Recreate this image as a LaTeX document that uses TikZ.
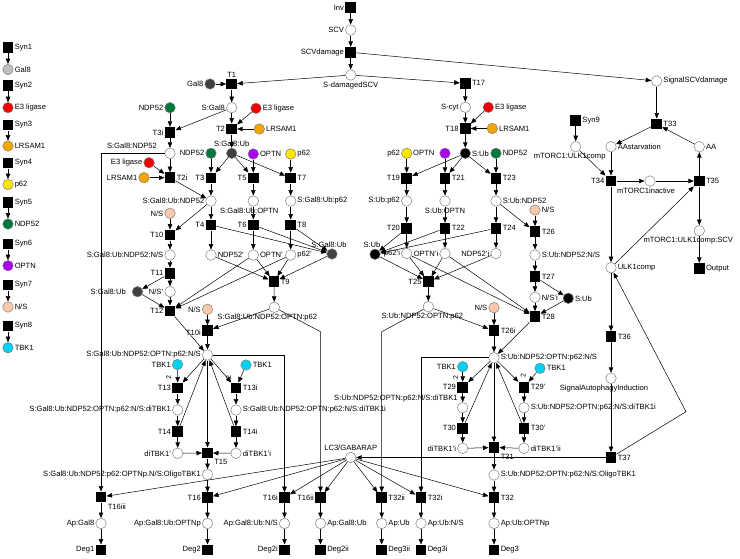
\documentclass[tikz,border=0pt]{standalone}
\usepackage{fontspec}
\setmainfont{Liberation Sans}
\usetikzlibrary{arrows.meta}
\newcommand\lbl{\fontsize{7.6}{9}\selectfont}
\definecolor{gal}{RGB}{190,190,190}
\definecolor{dk}{RGB}{64,64,64}
\definecolor{ligase}{RGB}{240,0,0}
\definecolor{lrs}{RGB}{245,165,0}
\definecolor{sqst}{RGB}{255,230,0}
\definecolor{ndp}{RGB}{0,120,60}
\definecolor{optn}{RGB}{170,0,240}
\definecolor{ns}{RGB}{250,200,170}
\definecolor{tbk}{RGB}{0,210,240}
\begin{document}
\begin{tikzpicture}[x=1pt,y=-1pt,font=\lbl,line width=0.5pt,
  pl/.style={circle,draw=gray,fill=white,minimum size=10.5pt,inner sep=0pt},
  tr/.style={rectangle,fill=black,minimum size=10.5pt,inner sep=0pt},
  flow/.style={-{Triangle[length=5.5pt,width=4.5pt]}},
  every label/.style={inner sep=1pt},
  wt/.style={font=\fontsize{7}{8}\selectfont,rotate=90,inner sep=0pt}]
\useasboundingbox (0,0) rectangle (740,558);

\node[tr,label={right:Syn1}] (syn1) at (8,47.7) {};
\node[pl,fill=gal,label={right:Gal8}] (gal8L) at (8,69.5) {};
\node[tr,label={right:Syn2}] (syn2) at (8,85.7) {};
\node[pl,fill=ligase,label={right:E3 ligase}] (e3L) at (8,107.7) {};
\node[tr,label={right:Syn3}] (syn3) at (8,125) {};
\node[pl,fill=lrs,label={right:LRSAM1}] (lrsL) at (8,146) {};
\node[tr,label={right:Syn4}] (syn4) at (8,163) {};
\node[pl,fill=sqst,label={right:p62}] (p62L) at (8,184.5) {};
\node[tr,label={right:Syn5}] (syn5) at (8,202.7) {};
\node[pl,fill=ndp,label={right:NDP52}] (ndpL) at (8,224) {};
\node[tr,label={right:Syn6}] (syn6) at (8,244) {};
\node[pl,fill=optn,label={right:OPTN}] (optnL) at (8,265.7) {};
\node[tr,label={right:Syn7}] (syn7) at (8,285) {};
\node[pl,fill=ns,label={right:N/S}] (nsL) at (8,307) {};
\node[tr,label={right:Syn8}] (syn8) at (8,326) {};
\node[pl,fill=tbk,label={right:TBK1}] (tbkL) at (8,347.7) {};

\node[tr,label={left:Inv}] (inv) at (350.7,7.5) {};
\node[pl,label={left:SCV}] (scv) at (350.7,30) {};
\node[tr,label={left:SCVdamage}] (scvd) at (350.7,52.3) {};
\node[pl,label={below:S-damagedSCV}] (sdam) at (350.7,75) {};

\node[tr,label={above:T1}] (t1) at (231.7,84) {};
\node[pl,fill=dk,label={left:Gal8}] (gal8a) at (210,84) {};
\node[pl,label={left:{S:Gal8}}] (sgal8) at (231.7,107.7) {};
\node[pl,fill=ligase,label={right:E3 ligase}] (e3a) at (256,108.3) {};
\node[tr,label={left:T2}] (t2) at (231.7,129) {};
\node[pl,fill=lrs,label={right:LRSAM1}] (lrsa) at (259.3,129) {};
\node[pl,fill=dk,label={above:{S:Gal8:Ub}}] (sgub) at (231.7,153.3) {};
\node[pl,fill=ndp,label={left:NDP52}] (ndpa) at (170,107.7) {};
\node[tr,label={left:T3i}] (t3i) at (170,132.3) {};
\node[pl,label={[xshift=-8pt]above left:{S:Gal8:NDP52}}] (sgn) at (170,153.3) {};
\node[pl,fill=ligase,label={left:E3 ligase}] (e3b) at (149,162.7) {};
\node[pl,fill=lrs,label={left:LRSAM1}] (lrsb) at (144,177.7) {};
\node[tr,label={right:T2i}] (t2i) at (170,177.7) {};
\node[pl,fill=ndp,label={left:NDP52}] (ndpb) at (211,153.3) {};
\node[tr,label={left:T3}] (t3) at (211,178) {};
\node[pl,fill=optn,label={right:OPTN}] (optna) at (253.3,154) {};
\node[pl,fill=sqst,label={right:p62}] (p62a) at (290.7,154) {};
\node[tr,label={left:T5}] (t5) at (253.3,178) {};
\node[tr,label={right:T7}] (t7) at (290.7,178) {};
\node[pl,label={left:{S:Gal8:Ub:NDP52}}] (sgun) at (211,201) {};
\node[pl,label={[xshift=-4pt]below:{S:Gal8:Ub:OPTN}}] (sguo) at (253.3,201) {};
\node[pl,label={right:{S:Gal8:Ub:p62}}] (sgup) at (290.7,201) {};
\node[pl,fill=ns,label={left:N/S}] (nsa) at (170,213.3) {};
\node[tr,label={left:T10}] (t10) at (170,235) {};
\node[tr,label={left:T4}] (t4) at (211,225) {};
\node[tr,label={left:T6}] (t6) at (253.3,225) {};
\node[tr,label={right:T8}] (t8) at (290.7,225) {};
\node[pl,label={left:{S:Gal8:Ub:NDP52:N/S}}] (sgunn) at (170,255) {};
\node[pl,label={right:NDP52'}] (ndpp) at (211,255) {};
\node[pl,label={right:OPTN'}] (optnp) at (253.3,255) {};
\node[pl,label={right:p62'}] (p62p) at (290.7,255) {};
\node[pl,fill=dk,label={[xshift=-3pt]above:{S:Gal8:Ub}}] (sgub2) at (332,254) {};
\node[tr,label={right:T9}] (t9) at (274,281.7) {};
\node[tr,label={left:T11}] (t11) at (170,273.3) {};
\node[pl,fill=dk,label={[xshift=-5pt]left:{S:Gal8:Ub}}] (sgub3) at (137.5,291.7) {};
\node[pl,label={left:N/S'}] (nsp) at (170,291.7) {};
\node[tr,label={left:T12}] (t12) at (170,311) {};
\node[pl,fill=ns,label={left:N/S}] (nsb) at (207.5,309.3) {};
\node[tr,label={[yshift=-2pt]left:T10i}] (t10i) at (207.5,330.7) {};
\node[pl,label={[xshift=-7pt]below:{S:Gal8:Ub:NDP52:OPTN:p62}}] (sgop) at (274.3,307.3) {};
\node[pl,label={left:{S:Gal8:Ub:NDP52:OPTN:p62:N/S}}] (sgopn) at (207.5,355) {};
\node[pl,fill=tbk,label={left:TBK1}] (tbka) at (177.5,364.5) {};
\node[pl,fill=tbk,label={right:TBK1}] (tbkb) at (246,365) {};
\node[tr,label={left:T13}] (t13) at (177.7,388) {};
\node[tr,label={right:T13i}] (t13i) at (236,388) {};
\node[pl,label={left:{S:Gal8:Ub:NDP52:OPTN:p62:N/S:diTBK1}}] (sgd) at (177.7,410) {};
\node[pl,label={right:{S:Gal8:Ub:NDP52:OPTN:p62:N/S:diTBK1i}}] (sgdi) at (236,410) {};
\node[tr,label={left:T14}] (t14) at (177.7,431.7) {};
\node[tr,label={right:T14i}] (t14i) at (236,431.7) {};
\node[pl,label={left:diTBK1'}] (ditp) at (177.7,453.3) {};
\node[pl,label={right:diTBK1'i}] (ditpi) at (236,453.3) {};
\node[tr,label={below right:T15}] (t15) at (207.5,453) {};
\node[pl,label={left:{S:Gal8:Ub:NDP52:p62:OPTNp.N/S:OligoTBK1}}] (sgol) at (207.5,474.5) {};
\node[tr,label={left:T16}] (t16) at (207.5,497.7) {};
\node[tr,label={below right:T16iii}] (t16iii) at (101,497) {};
\node[pl,label={left:{Ap:Gal8}}] (apg) at (101,523.5) {};
\node[tr,label={left:Deg1}] (deg1) at (101,550) {};
\node[pl,label={left:{Ap:Gal8:Ub:OPTNp}}] (apgo) at (207.5,523.5) {};
\node[tr,label={left:Deg2}] (deg2) at (207.5,550) {};
\node[tr,label={left:T16i}] (t16i) at (284.5,497.7) {};
\node[tr,label={left:T16ii}] (t16ii) at (320.5,497.7) {};
\node[tr,label={right:T32ii}] (t32ii) at (381.7,497.7) {};
\node[tr,label={right:T32i}] (t32i) at (421,497.7) {};
\node[pl,label={left:{Ap:Gal8:Ub:N/S}}] (apgn) at (284.5,523.5) {};
\node[pl,label={right:{Ap:Gal8:Ub}}] (apgu) at (320.5,523.5) {};
\node[pl,label={right:{Ap:Ub}}] (apu) at (381.7,523.5) {};
\node[pl,label={right:{Ap:Ub:N/S}}] (apun) at (421,523.5) {};
\node[tr,label={left:Deg2i}] (deg2i) at (284.5,550) {};
\node[tr,label={right:Deg2ii}] (deg2ii) at (320.5,550) {};
\node[tr,label={right:Deg3ii}] (deg3ii) at (381.7,550) {};
\node[tr,label={right:Deg3i}] (deg3i) at (421,550) {};
\node[pl,label={above:LC3/GABARAP}] (lc3) at (350.7,457.5) {};
\coordinate (k1) at (320.5,331.7);
\coordinate (k2) at (381.7,331.7);

\node[tr,label={right:T17}] (t17) at (465.3,83.3) {};
\node[pl,label={left:S-cyt}] (scyt) at (465.3,107.3) {};
\node[pl,fill=ligase,label={right:E3 ligase}] (e3c) at (488.3,107.3) {};
\node[tr,label={left:T18}] (t18) at (465.3,128.5) {};
\node[pl,fill=lrs,label={right:LRSAM1}] (lrsc) at (492.3,128.5) {};
\node[pl,fill=black,label={right:{S:Ub}}] (sub) at (465.3,153.3) {};
\node[pl,fill=sqst,label={left:p62}] (p62c) at (406.7,153.3) {};
\node[pl,fill=optn,label={[xshift=-4pt]left:OPTN}] (optnc) at (445,153.3) {};
\node[pl,fill=ndp,label={right:NDP52}] (ndpc) at (496,153.3) {};
\node[tr,label={left:T19}] (t19) at (406.7,178.3) {};
\node[tr,label={right:T21}] (t21) at (445,178.3) {};
\node[tr,label={right:T23}] (t23) at (496,178.3) {};
\node[pl,label={left:{S:Ub:p62}}] (sup62) at (406.7,201) {};
\node[pl,label={below:{S:Ub:OPTN}}] (suo) at (445,201) {};
\node[pl,label={right:{S:Ub:NDP52}}] (sun) at (496,201) {};
\node[pl,fill=ns,label={right:N/S}] (nsc) at (535,210) {};
\node[tr,label={right:T26}] (t26) at (535,231.7) {};
\node[tr,label={left:T20}] (t20) at (406.7,228.3) {};
\node[tr,label={right:T22}] (t22) at (445,228.3) {};
\node[tr,label={right:T24}] (t24) at (496,228.3) {};
\node[pl,fill=black,label={[xshift=-3pt]above:{S:Ub}}] (sub2) at (375,254.3) {};
\node[pl,label={left:p62'i}] (p62pi) at (406.7,253.5) {};
\node[pl,label={left:OPTN'i}] (optnpi) at (445,253.5) {};
\node[pl,label={left:NDP52'i}] (ndppi) at (496,253.5) {};
\node[tr,label={left:T25}] (t25) at (428.3,281.7) {};
\node[pl,label={right:{S:Ub:NDP52:N/S}}] (sunn) at (535,255) {};
\node[tr,label={right:T27}] (t27) at (535,276.7) {};
\node[pl,label={right:N/S'i}] (nspi) at (535,297.3) {};
\node[pl,fill=black,label={right:{S:Ub}}] (sub3) at (568.3,298.3) {};
\node[tr,label={right:T28}] (t28) at (535,316.7) {};
\node[pl,fill=ns,label={left:N/S}] (nsd) at (494,307.7) {};
\node[tr,label={right:T26i}] (t26i) at (494,330.7) {};
\node[pl,label={[xshift=-6pt]below:{S:Ub:NDP52:OPTN:p62}}] (suop) at (428.3,306.7) {};
\node[pl,label={right:{S:Ub:NDP52:OPTN:p62:N/S}}] (suopn) at (494,357.7) {};
\node[pl,fill=tbk,label={left:TBK1}] (tbkc) at (462.7,366.7) {};
\node[pl,fill=tbk,label={right:TBK1}] (tbkd) at (540,368.3) {};
\node[tr,label={left:T29}] (t29) at (462.7,387.3) {};
\node[tr,label={right:T29'}] (t29p) at (524,387.3) {};
\node[pl,label={above left:{S:Ub:NDP52:OPTN:p62:N/S:diTBK1}}] (sud) at (462.7,407.7) {};
\node[pl,label={right:{S:Ub:NDP52:OPTN:p62:N/S:diTBK1i}}] (sudi) at (524,407.7) {};
\node[tr,label={left:T30}] (t30) at (462.7,428.3) {};
\node[tr,label={right:T30'}] (t30p) at (524,428.3) {};
\node[pl,label={left:diTBK1'i}] (ditpi2) at (462.7,448.3) {};
\node[pl,label={right:diTBK1'ii}] (ditpii) at (524,448.3) {};
\node[tr,label={below right:T31}] (t31) at (494,447.5) {};
\node[pl,label={right:{S:Ub:NDP52:OPTN:p62:N/S:OligoTBK1}}] (suol) at (494,475) {};
\node[tr,label={right:T32}] (t32) at (494,497.7) {};
\node[pl,label={right:{Ap:Ub:OPTNp}}] (apuo) at (494,523.5) {};
\node[tr,label={right:Deg3}] (deg3) at (494,550) {};

\node[pl,label={right:SignalSCVdamage}] (ssd) at (656.7,81) {};
\node[tr,label={right:T33}] (t33) at (656.7,124) {};
\node[tr,label={right:Syn9}] (syn9) at (575.7,120.7) {};
\node[pl,label={[xshift=-6pt]below:{mTORC1:ULK1comp}}] (mulk) at (575.7,146.7) {};
\node[pl,label={right:AAstarvation}] (aas) at (611,146.7) {};
\node[pl,label={right:AA}] (aa) at (699.3,146.7) {};
\node[tr,label={left:T34}] (t34) at (611,181) {};
\node[pl,label={[xshift=-4pt]below:mTORC1inactive}] (minact) at (650,181) {};
\node[tr,label={right:T35}] (t35) at (699.3,181) {};
\node[pl,label={[xshift=-11pt]below:{mTORC1:ULK1comp:SCV}}] (mulks) at (699.3,230.7) {};
\node[tr,label={right:Output}] (outp) at (699.3,268.3) {};
\node[pl,label={right:ULK1comp}] (ulk) at (611,267.7) {};
\node[tr,label={right:T36}] (t36) at (611,336.7) {};
\node[pl,label={[xshift=-7pt]below:SignalAutophagyInduction}] (sai) at (611,378.3) {};
\node[tr,label={right:T37}] (t37) at (611,457.5) {};
\coordinate (bend) at (686,411.7);

\draw[flow] (syn1) -- (gal8L);
\draw[flow] (syn2) -- (e3L);
\draw[flow] (syn3) -- (lrsL);
\draw[flow] (syn4) -- (p62L);
\draw[flow] (syn5) -- (ndpL);
\draw[flow] (syn6) -- (optnL);
\draw[flow] (syn7) -- (nsL);
\draw[flow] (syn8) -- (tbkL);

\draw[flow] (inv) -- (scv);
\draw[flow] (scv) -- (scvd);
\draw[flow] (scvd) -- (sdam);
\draw[flow] (scvd) -- (ssd);
\draw[flow] (sdam) -- (t1);
\draw[flow] (sdam) -- (t17);

\draw[flow] (gal8a) -- (t1);
\draw[flow] (t1) -- (sgal8);
\draw[flow] (sgal8) -- (t2);
\draw[flow] (e3a) -- (t2);
\draw[flow] (lrsa) -- (t2);
\draw[flow] (t2) -- (sgub);
\draw[flow] (sgal8) -- (t3i);
\draw[flow] (ndpa) -- (t3i);
\draw[flow] (t3i) -- (sgn);
\draw[flow] (sgn) -- (t2i);
\draw[flow] (e3b) -- (t2i);
\draw[flow] (lrsb) -- (t2i);
\draw[flow] (t2i) -- (sgun);
\draw[flow] (sgub) -- (t3);
\draw[flow] (sgub) -- (t5);
\draw[flow] (sgub) -- (t7);
\draw[flow] (ndpb) -- (t3);
\draw[flow] (optna) -- (t5);
\draw[flow] (p62a) -- (t7);
\draw[flow] (t3) -- (sgun);
\draw[flow] (t5) -- (sguo);
\draw[flow] (t7) -- (sgup);
\draw[flow] (sgun) -- (t4);
\draw[flow] (sgun) -- (t10);
\draw[flow] (nsa) -- (t10);
\draw[flow] (t10) -- (sgunn);
\draw[flow] (sgunn) -- (t11);
\draw[flow] (t11) -- (sgub3);
\draw[flow] (t11) -- (nsp);
\draw[flow] (nsp) -- (t12);
\draw[flow] (sgub3) -- (t12);
\draw[flow] (optnp) -- (t12);
\draw[flow] (p62p) -- (t12);
\draw[flow] (t12) -- (sgopn);
\draw[flow] (t4) -- (ndpp);
\draw[flow] (t4) -- (sgub2);
\draw[flow] (sguo) -- (t6);
\draw[flow] (t6) -- (optnp);
\draw[flow] (t6) -- (sgub2);
\draw[flow] (sgup) -- (t8);
\draw[flow] (t8) -- (p62p);
\draw[flow] (t8) -- (sgub2);
\draw[flow] (sgub2) -- (t9);
\draw[flow] (ndpp) -- (t9);
\draw[flow] (optnp) -- (t9);
\draw[flow] (p62p) -- (t9);
\draw[flow] (t9) -- (sgop);
\draw[flow] (sgop) -- (t10i);
\draw[flow] (nsb) -- (t10i);
\draw[flow] (t10i) -- (sgopn);
\draw[flow] (sgop) -- (k1) -- (t16ii);
\draw[flow] (sgn) -| (t16iii);
\draw[flow] (sgopn) -| (t16i);

\draw[flow] (tbka) -- node[xshift=-9pt,pos=0.6,wt] (w1) {2} (t13);
\draw[flow] (sgopn) -- (t13);
\draw[flow] (t13) -- (sgd);
\draw[flow] (sgd) -- (t14);
\draw[flow] (t14) -- (ditp);
\draw[flow] (t14) -- (sgopn);
\draw[flow] (ditp) -- (t15);
\draw[flow] (tbkb) -- node[xshift=-12pt,pos=0.6,wt] (w2) {2} (t13i);
\draw[flow] (sgopn) -- (t13i);
\draw[flow] (t13i) -- (sgdi);
\draw[flow] (sgdi) -- (t14i);
\draw[flow] (t14i) -- (ditpi);
\draw[flow] (t14i) -- (sgopn);
\draw[flow] (ditpi) -- (t15);
\draw[flow] (sgopn) -- (t15);
\draw[flow] (t15) -- (sgol);
\draw[flow] (sgol) -- (t16);

\draw[flow] (lc3) -- (t16);
\draw[flow] (lc3) -- (t16iii);
\draw[flow] (lc3) -- (t16i);
\draw[flow] (lc3) -- (t16ii);
\draw[flow] (lc3) -- (t32ii);
\draw[flow] (lc3) -- (t32i);
\draw[flow] (lc3) -- (t32);
\draw[flow] (t16iii) -- (apg);
\draw[flow] (apg) -- (deg1);
\draw[flow] (t16) -- (apgo);
\draw[flow] (apgo) -- (deg2);
\draw[flow] (t16i) -- (apgn);
\draw[flow] (apgn) -- (deg2i);
\draw[flow] (t16ii) -- (apgu);
\draw[flow] (apgu) -- (deg2ii);
\draw[flow] (t32ii) -- (apu);
\draw[flow] (apu) -- (deg3ii);
\draw[flow] (t32i) -- (apun);
\draw[flow] (apun) -- (deg3i);
\draw[flow] (t32) -- (apuo);
\draw[flow] (apuo) -- (deg3);

\draw[flow] (t17) -- (scyt);
\draw[flow] (scyt) -- (t18);
\draw[flow] (e3c) -- (t18);
\draw[flow] (lrsc) -- (t18);
\draw[flow] (t18) -- (sub);
\draw[flow] (sub) -- (t19);
\draw[flow] (sub) -- (t21);
\draw[flow] (sub) -- (t23);
\draw[flow] (p62c) -- (t19);
\draw[flow] (optnc) -- (t21);
\draw[flow] (ndpc) -- (t23);
\draw[flow] (t19) -- (sup62);
\draw[flow] (sup62) -- (t20);
\draw[flow] (t21) -- (suo);
\draw[flow] (suo) -- (t22);
\draw[flow] (t23) -- (sun);
\draw[flow] (sun) -- (t24);
\draw[flow] (sun) -- (t26);
\draw[flow] (nsc) -- (t26);
\draw[flow] (t26) -- (sunn);
\draw[flow] (sunn) -- (t27);
\draw[flow] (t27) -- (nspi);
\draw[flow] (t27) -- (sub3);
\draw[flow] (nspi) -- (t28);
\draw[flow] (sub3) -- (t28);
\draw[flow] (p62pi) -- (t28);
\draw[flow] (optnpi) -- (t28);
\draw[flow] (t20) -- (p62pi);
\draw[flow] (t20) -- (sub2);
\draw[flow] (t22) -- (optnpi);
\draw[flow] (t22) -- (sub2);
\draw[flow] (t24) -- (ndppi);
\draw[flow] (t24) -- (sub2);
\draw[flow] (sub2) -- (t25);
\draw[flow] (p62pi) -- (t25);
\draw[flow] (optnpi) -- (t25);
\draw[flow] (ndppi) -- (t25);
\draw[flow] (t25) -- (suop);
\draw[flow] (suop) -- (t26i);
\draw[flow] (nsd) -- (t26i);
\draw[flow] (t26i) -- (suopn);
\draw[flow] (t28) -- (suopn);
\draw[flow] (suop) -- (k2) -- (t32ii);
\draw[flow] (suopn) -| (t32i);

\draw[flow] (tbkc) -- node[xshift=-7pt,pos=0.55,wt] (w3) {2} (t29);
\draw[flow] (suopn) -- (t29);
\draw[flow] (t29) -- (sud);
\draw[flow] (sud) -- (t30);
\draw[flow] (t30) -- (ditpi2);
\draw[flow] (t30) -- (suopn);
\draw[flow] (ditpi2) -- (t31);
\draw[flow] (tbkd) -- node[xshift=-11pt,pos=0.3,wt] (w4) {2} (t29p);
\draw[flow] (suopn) -- (t29p);
\draw[flow] (t29p) -- (sudi);
\draw[flow] (sudi) -- (t30p);
\draw[flow] (t30p) -- (ditpii);
\draw[flow] (t30p) -- (suopn);
\draw[flow] (ditpii) -- (t31);
\draw[flow] (suopn) -- (t31);
\draw[flow] (t31) -- (suol);
\draw[flow] (suol) -- (t32);

\draw[flow] (ssd) -- (t33);
\draw[flow] (aa) -- (t33);
\draw[flow] (t33) -- (aas);
\draw[flow] (aas) -- (t34);
\draw[flow] (syn9) -- (mulk);
\draw[flow] (mulk) -- (t34);
\draw[flow] (t34) -- (minact);
\draw[flow] (minact) -- (t35);
\draw[flow] (ulk) -- (t35);
\draw[flow] (t35) -- (aa);
\draw[flow] (t35) -- (mulks);
\draw[flow] (mulks) -- (outp);
\draw[flow] (t34) -- (ulk);
\draw[flow] (ulk) -- (t36);
\draw[flow] (t36) -- (sai);
\draw[flow] (sai) -- (t37);
\draw[flow] (t37) -- (lc3);
\draw[flow] (t37) -- (bend) -- (ulk);
\end{tikzpicture}
\end{document}
